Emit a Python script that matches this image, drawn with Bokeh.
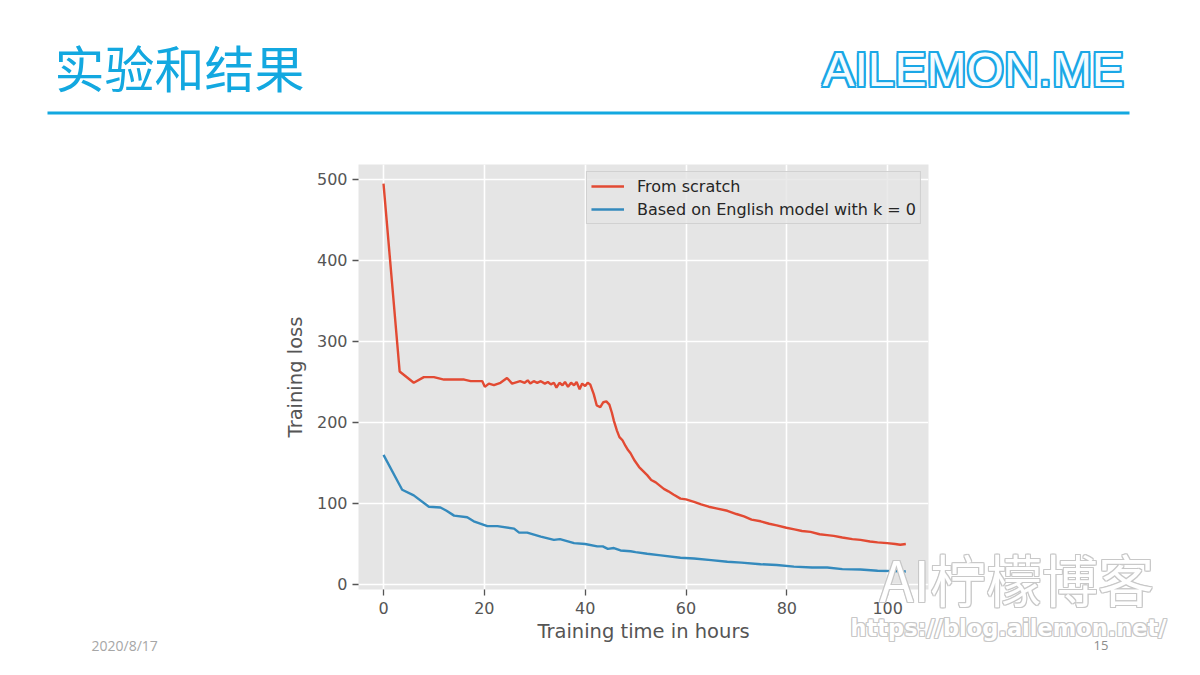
from bokeh.plotting import figure
from bokeh.layouts import column
from bokeh.models import Range1d, Label, BoxAnnotation, Legend, LegendItem, FixedTicker
from bokeh.embed import file_html
from bokeh.resources import INLINE

# ---------------- data ----------------
scratch_x = [0, 3.2, 6.0, 8.0, 10, 12, 16, 17.3, 19.6, 20.1, 20.9, 21.9, 23.2, 24.5, 25.5, 27.1,
             28.0, 28.6, 29.1, 29.8, 30.5, 31.2, 32.0, 32.6, 33.2, 33.8, 34.3, 34.9, 35.5, 36.0,
             36.6, 37.2, 37.8, 38.3, 38.9, 39.4, 40.0, 40.5, 41.0, 41.7, 42.3, 43.0, 43.6, 44.2,
             44.8, 45.3, 45.7, 46.3, 46.8, 47.4, 48.0, 48.5, 49.0, 49.8, 50.7, 51.5, 52.3, 53.1,
             54.0, 54.8, 55.6, 56.5, 57.5, 58.9, 60.0, 61.6, 63.0, 64.5, 66.0, 68.2, 70.0, 71.5,
             73.0, 74.8, 76.5, 78.0, 79.9, 81.5, 83.0, 84.7, 86.5, 88.0, 89.3, 91.0, 93.0, 94.6,
             96.5, 98.0, 99.9, 101.5, 102.5, 103.6]
scratch_y = [495, 263, 249, 256, 256, 253, 253, 251, 251, 244, 248, 246, 249, 255, 248, 251,
             249, 252, 248, 251, 249, 251, 248, 250, 247, 249, 243, 249, 246, 250,
             244, 249, 246, 250, 241, 248, 245, 249, 247, 235, 221, 219, 225, 226,
             222, 212, 202, 190, 182, 178, 171, 166, 162, 153, 145, 140, 135, 129,
             126, 122, 118, 115, 111, 106, 105, 102, 99, 96, 94, 91, 87, 84,
             80, 78, 75, 73, 70, 68, 66, 65, 62, 61, 60, 58, 56, 55,
             53, 52, 51, 50, 49, 50]

english_x = [0, 3.7, 6.0, 9.0, 11.3, 12.5, 14.0, 16.6, 17.9, 20.6, 22.6, 25.9, 26.9, 28.5, 31.2,
             33.8, 35.0, 37.8, 40.0, 42.4, 43.5, 44.5, 45.7, 47.0, 49.0, 50.0, 52.3, 55.0, 58.9,
             61.6, 65.0, 68.2, 71.0, 74.8, 78.0, 81.4, 85.0, 88.0, 91.0, 94.6, 98.0, 101.2, 103.6]
english_y = [160, 117, 110, 96, 95, 91, 85, 83, 78, 72, 72, 69, 64, 64, 59,
             55, 56, 51, 50, 47, 47, 44, 45, 42, 41, 40, 38, 36, 33,
             32, 30, 28, 27, 25, 24, 22, 21, 21, 19, 18.5, 17, 16.5, 16]

x_ticks = [0, 20, 40, 60, 80, 100]
y_ticks = [0, 100, 200, 300, 400, 500]
series_names = ["From scratch", "Based on English model with k = 0"]
title_text = "实验和结果"
brand_text = "AILEMON.ME"
date_text = "2020/8/17"
page_text = "15"
wm_text = "AI柠檬博客"
wm_url = "https://blog.ailemon.net/"

W, H = 1200, 675

# ---------------- chart figure ----------------
p = figure(width=W, height=H, output_backend="svg", toolbar_location=None,
           x_range=Range1d(-4.96, 108.1), y_range=Range1d(-6.2, 518.5),
           min_border_left=358, min_border_right=272, min_border_top=164, min_border_bottom=86,
           frame_align=False)
p.background_fill_color = "#e5e5e5"
p.border_fill_color = "white"
p.outline_line_color = None

r1 = p.line(scratch_x, scratch_y, line_color="#E24A33", line_width=2.4)
r2 = p.line(english_x, english_y, line_color="#348ABD", line_width=2.4)

p.xaxis.ticker = FixedTicker(ticks=x_ticks)
p.yaxis.ticker = FixedTicker(ticks=y_ticks)
for ax in (p.xaxis[0], p.yaxis[0]):
    ax.axis_line_color = None
    ax.major_tick_line_color = "#555555"
    ax.major_tick_line_width = 1.3
    ax.major_tick_out = 6
    ax.major_tick_in = 0
    ax.minor_tick_line_color = None
    ax.major_label_text_color = "#555555"
    ax.major_label_text_font = "DejaVu Sans"
    ax.major_label_text_font_size = "16px"
    ax.axis_label_text_font = "DejaVu Sans"
    ax.axis_label_text_font_size = "19.5px"
    ax.axis_label_text_font_style = "normal"
    ax.axis_label_text_color = "#555555"
p.xaxis.axis_label = "Training time in hours"
p.yaxis.axis_label = "Training loss"
p.xaxis.major_label_standoff = 6
p.yaxis.major_label_standoff = 5
p.xaxis.axis_label_standoff = 3
p.yaxis.axis_label_standoff = 7
p.grid.grid_line_color = "white"
p.grid.grid_line_width = 1.6

legend = Legend(items=[LegendItem(label=series_names[0], renderers=[r1]),
                       LegendItem(label=series_names[1], renderers=[r2])],
                location="top_right", margin=7, padding=4, spacing=3,
                glyph_width=33, glyph_height=20, label_height=20, label_standoff=13,
                label_text_font="DejaVu Sans", label_text_font_size="16px",
                label_text_color="#262626",
                background_fill_color="#e5e5e5", background_fill_alpha=0.8,
                border_line_color="#cccccc", border_line_alpha=0.8, border_line_width=1)
p.add_layout(legend)

# ---------------- overlay figure for the slide decorations ----------------
d = figure(width=W, height=H, output_backend="svg", toolbar_location=None,
           x_range=Range1d(0, W), y_range=Range1d(H, 0),
           x_axis_type=None, y_axis_type=None, min_border=0,
           margin=(-H, 0, 0, 0), frame_align=False)
d.background_fill_alpha = 0
d.border_fill_alpha = 0
d.outline_line_color = None
d.grid.visible = False


def label(text, px, py, size, color, font="Noto Sans CJK SC", align="left",
          style="normal", dx=0, dy=0):
    d.add_layout(Label(x=px, y=py, x_offset=dx, y_offset=dy, text=text, text_font=font,
                       text_font_size=size, text_color=color, text_align=align,
                       text_baseline="middle", text_font_style=style))


def outlined(text, px, py, size, edge, fill, font, r=2, style="normal"):
    offs = [(-r, 0), (r, 0), (0, -r), (0, r), (-r, -r), (r, r), (-r, r), (r, -r)]
    for dx, dy in offs:
        label(text, px, py, size, edge, font=font, dx=dx, dy=dy, style=style)
    label(text, px, py, size, fill, font=font, style=style)


label(title_text, 54, 65, "50px", "#13a8e0")
d.add_layout(BoxAnnotation(left=47, right=1129, top=111, bottom=114,
                           fill_color="#13a8e0", fill_alpha=1, line_color=None))
outlined(brand_text, 822, 69, "48px", "#1aa7e6", "#f4fbff", "Liberation Sans", r=2)

label(date_text, 91, 645, "14px", "#a6a6a6", font="Open Sans")
label(page_text, 1093, 645, "13px", "#8c8c8c", font="Open Sans")

outlined(wm_text, 879, 577, "56px", "#c8c8c8", "#ffffff", "Noto Sans CJK SC", r=1)
outlined(wm_url, 850, 627, "22.5px", "#c8c8c8", "#ffffff", "DejaVu Sans", r=1, style="bold")

layout = column(p, d, spacing=0)
open("out.html", "w").write(file_html(layout, INLINE))
